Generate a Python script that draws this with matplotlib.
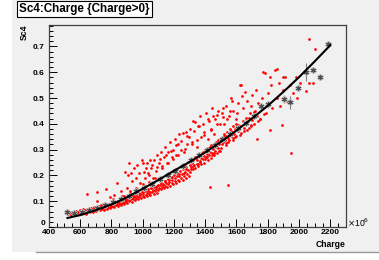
import matplotlib
matplotlib.use("Agg")
import matplotlib.pyplot as plt
from matplotlib.patches import Rectangle
from matplotlib.ticker import MultipleLocator

# red scatter: Charge (x1e6) vs Sc4
lower_x = [525, 535, 540, 548, 555, 560, 568, 572, 580, 585, 592, 598, 605, 610, 615,
           622, 628, 633, 640, 645, 650, 655, 662, 668, 672, 678, 684, 690, 695, 700,
           705, 710, 715, 720, 725, 730, 735, 740, 745, 750, 755, 760, 765, 770, 775,
           780, 785, 790, 795, 800, 805, 810, 815, 820, 825, 830, 835, 840, 845, 850,
           855, 860, 865, 870, 875, 880, 885, 890, 895, 900,
           905, 910, 915, 920, 925, 930, 935, 940, 945, 950, 955, 960, 965, 970, 975,
           980, 985, 990, 995, 1000, 1005, 1010, 1015, 1020, 1025, 1030, 1035, 1040, 1045, 1050,
           1055, 1060, 1065, 1070, 1075, 1080, 1085, 1090, 1095, 1100,
           1105, 1110, 1115, 1120, 1125, 1130, 1135, 1140, 1145, 1150, 1155, 1160, 1165, 1170, 1175,
           1180, 1185, 1190, 1195, 1200, 1205, 1210, 1215, 1220, 1225, 1230, 1235, 1240, 1245, 1250,
           1255, 1260, 1265, 1270, 1275, 1280, 1285, 1290, 1295, 1300,
           1305, 1310, 1315, 1320, 1325, 1330, 1335, 1340, 1345, 1350, 1355, 1360, 1365, 1370, 1375,
           1380, 1385, 1390, 1395, 1400, 1405, 1410, 1415, 1420, 1425, 1430, 1435, 1440, 1445, 1450,
           1455, 1460, 1465, 1470, 1475, 1480, 1485, 1490, 1495, 1500,
           1505, 1510, 1515, 1520, 1525, 1530, 1535, 1540, 1545, 1550, 1555, 1560, 1565, 1570, 1575,
           1580, 1585, 1590, 1595, 1600, 1610, 1620, 1630, 1640, 1650, 1660, 1670, 1680, 1690, 1700]
lower_y = [0.050, 0.055, 0.046, 0.060, 0.052, 0.058, 0.048, 0.063, 0.055, 0.060, 0.050, 0.066, 0.057, 0.062, 0.053,
           0.068, 0.059, 0.064, 0.056, 0.070, 0.061, 0.066, 0.058, 0.072, 0.063, 0.068, 0.060, 0.074, 0.065, 0.070,
           0.062, 0.075, 0.068, 0.080, 0.066, 0.072, 0.084, 0.070, 0.078, 0.065, 0.082, 0.074, 0.088, 0.070, 0.080,
           0.076, 0.090, 0.072, 0.084, 0.078, 0.094, 0.080, 0.086, 0.076, 0.098, 0.084, 0.090, 0.080, 0.102, 0.088,
           0.094, 0.084, 0.106, 0.092, 0.098, 0.088, 0.110, 0.096, 0.102, 0.092,
           0.108, 0.100, 0.115, 0.104, 0.112, 0.098, 0.120, 0.108, 0.116, 0.104, 0.126, 0.112, 0.120, 0.108, 0.130,
           0.116, 0.124, 0.112, 0.136, 0.120, 0.128, 0.116, 0.140, 0.124, 0.132, 0.120, 0.146, 0.128, 0.136, 0.124,
           0.150, 0.134, 0.142, 0.128, 0.156, 0.138, 0.146, 0.132, 0.160, 0.142,
           0.150, 0.162, 0.146, 0.170, 0.156, 0.164, 0.150, 0.178, 0.160, 0.170, 0.156, 0.186, 0.166, 0.176, 0.160,
           0.194, 0.172, 0.182, 0.166, 0.200, 0.178, 0.190, 0.172, 0.208, 0.184, 0.196, 0.178, 0.216, 0.190, 0.204,
           0.184, 0.224, 0.198, 0.212, 0.190, 0.232, 0.204, 0.220, 0.196, 0.240,
           0.215, 0.232, 0.250, 0.225, 0.260, 0.240, 0.228, 0.268, 0.246, 0.258, 0.236, 0.276, 0.252, 0.266, 0.244,
           0.286, 0.262, 0.274, 0.250, 0.296, 0.270, 0.284, 0.260, 0.306, 0.278, 0.292, 0.268, 0.316, 0.288, 0.302,
           0.278, 0.326, 0.296, 0.312, 0.286, 0.336, 0.306, 0.322, 0.296, 0.346,
           0.320, 0.345, 0.330, 0.360, 0.336, 0.352, 0.326, 0.370, 0.344, 0.360, 0.336, 0.380, 0.352, 0.370, 0.344,
           0.390, 0.362, 0.380, 0.352, 0.400, 0.372, 0.392, 0.364, 0.412, 0.384, 0.404, 0.376, 0.424, 0.396, 0.416]

mid_x = [612, 637, 688, 723, 748, 771, 798, 812, 833, 851, 868, 893, 917, 931, 948, 967, 983,
         1002, 1018, 1033, 1051, 1068, 1083, 1097, 1112, 1128, 1143, 1158, 1171, 1188, 1203,
         1218, 1232, 1247, 1262, 1278, 1291, 1307, 1322, 1338, 1352, 1368, 1383, 1398, 1412,
         1428, 1443, 1458, 1472, 1488, 1503, 1518, 1532, 1548, 1563, 1578, 1593, 1608, 1623,
         1648, 1663, 1678, 1693, 1712, 1735, 1752, 1778]
mid_y = [0.061, 0.052, 0.077, 0.069, 0.091, 0.079, 0.083, 0.107, 0.093, 0.097, 0.121, 0.104,
         0.131, 0.113, 0.122, 0.148, 0.127, 0.136, 0.158, 0.139, 0.150, 0.171, 0.154, 0.163,
         0.187, 0.168, 0.177, 0.203, 0.181, 0.192, 0.219, 0.196, 0.207, 0.236, 0.211, 0.223,
         0.251, 0.226, 0.238, 0.272, 0.243, 0.256, 0.291, 0.262, 0.272, 0.309, 0.279, 0.288,
         0.330, 0.296, 0.306, 0.351, 0.317, 0.329, 0.373, 0.338, 0.349, 0.395, 0.358, 0.371,
         0.421, 0.384, 0.393, 0.446, 0.410, 0.420, 0.438]

upper_x = [643, 707, 764, 837, 707, 790, 820, 860, 880, 900,
           889, 909, 915, 925, 935, 945, 955, 965, 975, 985, 995, 1005, 1015, 1025, 1035, 1048, 1055,
           1065, 1075, 1090, 1095, 920, 960, 1000, 1040, 1080,
           1105, 1115, 1125, 1135, 1144, 1155, 1165, 1175, 1185, 1195, 1205, 1215, 1225, 1235, 1245,
           1259, 1265, 1275, 1285, 1295,
           1305, 1315, 1325, 1336, 1345, 1355, 1365, 1375, 1385, 1395, 1405, 1415, 1425, 1435, 1445,
           1455, 1465, 1475, 1485, 1495,
           1505, 1515, 1520, 1535, 1550, 1560, 1565, 1580, 1595, 1610, 1625, 1628, 1640, 1656, 1670,
           1685, 1700,
           1710, 1720, 1730, 1740, 1750, 1760, 1771, 1784, 1790, 1800, 1810, 1816, 1820, 1830, 1848,
           1859, 1860, 1870, 1880, 1891, 1895, 1900, 1910, 1925, 1940, 1960, 1980, 1987, 2000, 2008,
           2047, 2061, 2066, 2091, 2104, 1816, 1730,
           1433, 1547, 1948,
           1008, 1022, 1043, 1061, 1087, 1108, 1121, 1149, 1162, 1183, 1197, 1212, 1228, 1243, 1268,
           1282, 1313, 1329, 1347, 1362, 1391, 1419, 1438, 1451, 1478, 1512, 1541, 1572, 1603, 1633,
           1692, 1722]
upper_y = [0.127, 0.136, 0.147, 0.169, 0.100, 0.115, 0.125, 0.140, 0.120, 0.150,
           0.213, 0.200, 0.250, 0.210, 0.180, 0.230, 0.190, 0.240, 0.210, 0.170, 0.260, 0.247, 0.190, 0.250, 0.210, 0.258, 0.230,
           0.190, 0.260, 0.233, 0.280, 0.140, 0.150, 0.165, 0.175, 0.190,
           0.250, 0.290, 0.230, 0.270, 0.310, 0.250, 0.290, 0.330, 0.270, 0.300, 0.340, 0.280, 0.320, 0.360, 0.300,
           0.363, 0.290, 0.370, 0.320, 0.350,
           0.380, 0.330, 0.410, 0.407, 0.310, 0.390, 0.430, 0.350, 0.400, 0.370, 0.440, 0.340, 0.410, 0.380, 0.460,
           0.360, 0.420, 0.433, 0.450, 0.400,
           0.440, 0.426, 0.400, 0.470, 0.430, 0.450, 0.500, 0.450, 0.420, 0.480, 0.549, 0.550, 0.460, 0.523, 0.490,
           0.440, 0.510,
           0.400, 0.450, 0.430, 0.480, 0.420, 0.500, 0.600, 0.597, 0.440, 0.520, 0.480, 0.580, 0.550, 0.460, 0.610,
           0.614, 0.500, 0.560, 0.470, 0.394, 0.530, 0.580, 0.580, 0.490, 0.550, 0.520, 0.580, 0.500, 0.540, 0.560,
           0.526, 0.560, 0.727, 0.560, 0.690, 0.375, 0.340,
           0.155, 0.162, 0.287,
           0.212, 0.229, 0.203, 0.241, 0.219, 0.262, 0.236, 0.281, 0.248, 0.296, 0.263, 0.318, 0.281, 0.334, 0.302,
           0.352, 0.321, 0.371, 0.339, 0.392, 0.357, 0.418, 0.376, 0.431, 0.398, 0.463, 0.418, 0.487, 0.441, 0.507,
           0.468, 0.532]

# profile points (asterisks with error bars)
prof_x = [515, 560, 610, 660, 710, 760, 810, 860, 910, 960, 1010, 1060, 1110, 1160, 1210, 1260,
          1310, 1360, 1410, 1460, 1510, 1560, 1610, 1660, 1710, 1758, 1803, 1903, 1944, 1990,
          2047, 2089, 2136, 2185]
prof_y = [0.058, 0.055, 0.060, 0.066, 0.074, 0.084, 0.095, 0.108, 0.122, 0.138, 0.152, 0.168,
          0.185, 0.200, 0.218, 0.238, 0.258, 0.278, 0.298, 0.318, 0.340, 0.360, 0.382, 0.405,
          0.430, 0.470, 0.475, 0.496, 0.483, 0.540, 0.600, 0.610, 0.580, 0.710]
prof_err = [0.004, 0.003, 0.003, 0.003, 0.003, 0.004, 0.004, 0.004, 0.005, 0.005, 0.005, 0.005,
            0.006, 0.006, 0.006, 0.007, 0.007, 0.007, 0.008, 0.008, 0.008, 0.009, 0.010, 0.010,
            0.012, 0.012, 0.012, 0.015, 0.025, 0.012, 0.035, 0.012, 0.010, 0.008]

# fitted curve
fit_x = [520, 600, 700, 800, 900, 1000, 1100, 1200, 1300, 1400, 1500, 1600, 1700, 1800,
         1900, 2000, 2100, 2200]
fit_y = [0.035, 0.046, 0.065, 0.087, 0.115, 0.148, 0.182, 0.218, 0.252, 0.289, 0.330, 0.374,
         0.421, 0.470, 0.524, 0.581, 0.642, 0.705]

BG = '#f0f0f0'
FONT = 'Liberation Sans'

fig = plt.figure(figsize=(3.79, 2.60), dpi=100)
fig.patch.set_facecolor('white')
# ROOT-like canvas pad
fig.patches.append(Rectangle((12 / 379, 8 / 260), 1 - 12 / 379, 1 - 8 / 260, transform=fig.transFigure,
                             facecolor=BG, edgecolor='none', zorder=-10))
fig.lines.append(plt.Line2D([36 / 379, 1], [8 / 260, 8 / 260], transform=fig.transFigure,
                            color='#9a9a9a', lw=1.0))

ax = fig.add_axes([48.75 / 379, 33 / 260, (346 - 48.75) / 379, (227 - 25) / 260])
ax.set_facecolor(BG)
ax.set_xlim(400, 2300)
ax.set_ylim(0, 0.783)

for xs, ys in [(lower_x, lower_y), (mid_x, mid_y), (upper_x, upper_y)]:
    ax.scatter(xs, ys, s=3.8, color='#ff0000', linewidths=0, zorder=2)
ax.errorbar(prof_x, prof_y, yerr=prof_err, fmt='none', ecolor='#808080', elinewidth=0.8, zorder=3)
ax.plot(prof_x, prof_y, linestyle='none', marker=(6, 2, 0), markersize=4.5, color='#b4b4b4',
        markeredgewidth=1.4, zorder=3)
ax.plot(prof_x, prof_y, linestyle='none', marker=(6, 2, 0), markersize=3.5, color='#505050',
        markeredgewidth=0.6, zorder=4)
ax.plot(fit_x, fit_y, color='black', lw=1.5, zorder=5)

for s in ['left', 'bottom', 'top', 'right']:
    ax.spines[s].set_color('#404040')
    ax.spines[s].set_linewidth(0.9)

ax.xaxis.set_major_locator(MultipleLocator(200))
ax.xaxis.set_minor_locator(MultipleLocator(50))
ax.yaxis.set_major_locator(MultipleLocator(0.1))
ax.yaxis.set_minor_locator(MultipleLocator(0.02))
ax.tick_params(axis='both', which='both', direction='in', top=False, right=False, color='black')
ax.tick_params(axis='both', which='major', length=5.5, width=0.7)
ax.tick_params(axis='both', which='minor', length=2.8, width=0.7)
ax.tick_params(axis='x', pad=1.8, labelsize=6)
ax.tick_params(axis='y', pad=3.2, labelsize=6)
ax.yaxis.set_major_formatter(plt.FuncFormatter(lambda v, p: '0' if abs(v) < 1e-9 else f'{v:.1f}'))
for lab in ax.get_xticklabels() + ax.get_yticklabels():
    lab.set_fontweight('bold')
    lab.set_family(FONT)

# ROOT puts the zero label a touch higher, just above the "400"
ax.set_yticks([0.1, 0.2, 0.3, 0.4, 0.5, 0.6, 0.7])
ax.yaxis.set_major_formatter(plt.FuncFormatter(lambda v, p: f'{v:.1f}'))
for lab in ax.get_yticklabels():
    lab.set_fontweight('bold')
    lab.set_family(FONT)
ax.plot([400, 400 + 1900 * 5.5 / 297], [0, 0], color='black', lw=0.7, clip_on=False, zorder=6)
ax.text(-0.013, 0.018, '0', transform=ax.transAxes, ha='right', va='center', fontsize=6,
        fontweight='bold', family=FONT)

ax.text(-0.082, 1.0, 'Sc4', transform=ax.transAxes, rotation=90, ha='center', va='top',
        fontsize=6.2, fontweight='bold', family=FONT)
ax.text(1.0, -0.088, 'Charge', transform=ax.transAxes, ha='right', va='center',
        fontsize=6.2, fontweight='bold', family=FONT)
ax.text(1.003, 0.02, r'$\times$10$^{6}$', transform=ax.transAxes, ha='left', va='center',
        fontsize=6.2, family=FONT)

fig.text(19 / 379, 1 - 9 / 260, 'Sc4:Charge {Charge>0}', ha='left', va='center', fontsize=8.4,
         fontweight='bold', family=FONT,
         bbox=dict(boxstyle='square,pad=0.18', facecolor='white', edgecolor='black', linewidth=0.8))

fig.savefig('out.png', dpi=100, facecolor=fig.get_facecolor())
